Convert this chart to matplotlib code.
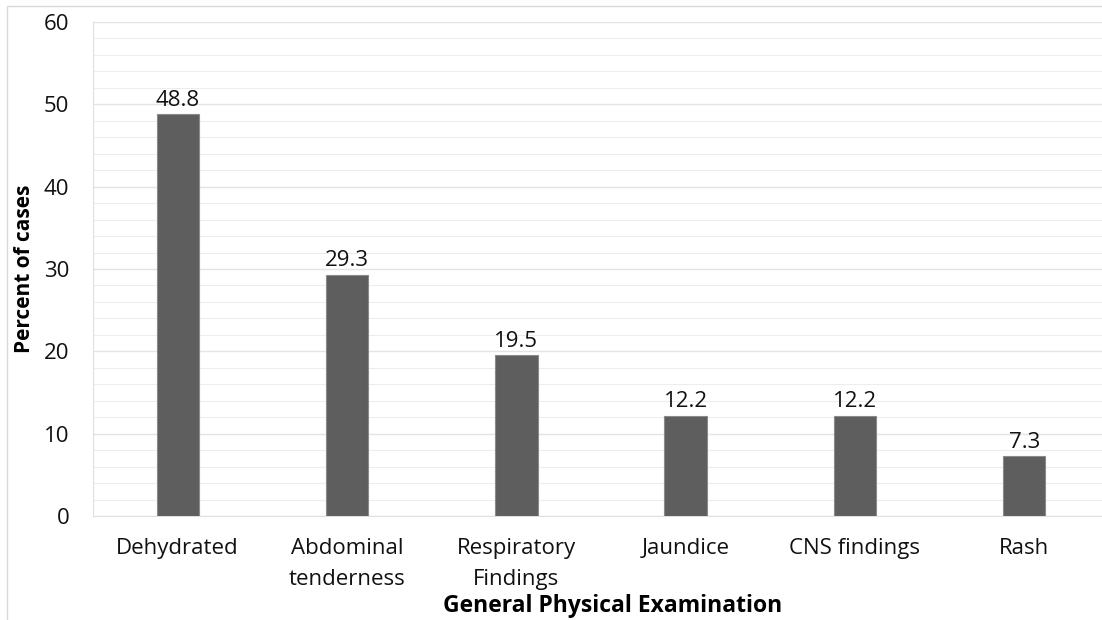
import matplotlib.pyplot as plt
from matplotlib.patches import Rectangle

# categories and percentages
categories = ["Dehydrated", "Abdominal\ntenderness", "Respiratory\nFindings",
              "Jaundice", "CNS findings", "Rash"]
percent = [48.8, 29.3, 19.5, 12.2, 12.2, 7.3]

plt.rcParams['font.family'] = ['Open Sans', 'DejaVu Sans']

fig = plt.figure(figsize=(11.02, 6.2), dpi=100)
ax = fig.add_axes([93 / 1102, 104 / 620, 1016 / 1102, 494 / 620])

x = range(len(categories))
bars = ax.bar(x, percent, width=0.25, color='#5e5e5e', edgecolor='#8a8a8a',
              linewidth=0.8, zorder=3)

for b, v in zip(bars, percent):
    ax.text(b.get_x() + b.get_width() / 2, v + 0.4, f"{v}", ha='center',
            va='bottom', fontsize=16, color='#111111')

ax.set_xlim(-0.5, len(categories) - 0.5)
ax.set_ylim(0, 60)
ax.set_yticks(range(0, 61, 10))
ax.set_yticks(range(0, 61, 2), minor=True)
ax.set_xticks(list(x))
ax.set_xticklabels(categories, fontsize=16, color='#111111', linespacing=1.6)
ax.tick_params(axis='y', labelsize=16, colors='#111111', length=0, pad=17)
ax.tick_params(axis='y', which='minor', length=0)
ax.tick_params(axis='x', length=0, pad=16)

ax.grid(axis='y', which='major', color='#e4e4e4', linewidth=1.0, zorder=0)
ax.grid(axis='y', which='minor', color='#ededed', linewidth=0.8, zorder=0)

for s in ['top', 'right']:
    ax.spines[s].set_visible(False)
ax.spines['left'].set_color('#e0e0e0')
ax.spines['bottom'].set_color('#e0e0e0')

fig.text(25 / 1102, 1 - 269 / 620, "Percent of cases", rotation=90, ha='center',
         va='center', fontsize=15, fontweight='bold')
fig.text(613 / 1102, 1 - 606 / 620, "General Physical Examination", ha='center',
         va='center', fontsize=16.5, fontweight='bold')

# thin frame round the chart area
fig.patches.append(Rectangle((7 / 1102, -0.1), 1.2, 1 - 6 / 620 + 0.1,
                             transform=fig.transFigure, fill=False,
                             edgecolor='#d9d9d9', linewidth=1.0))

fig.savefig("out.png", dpi=100)
